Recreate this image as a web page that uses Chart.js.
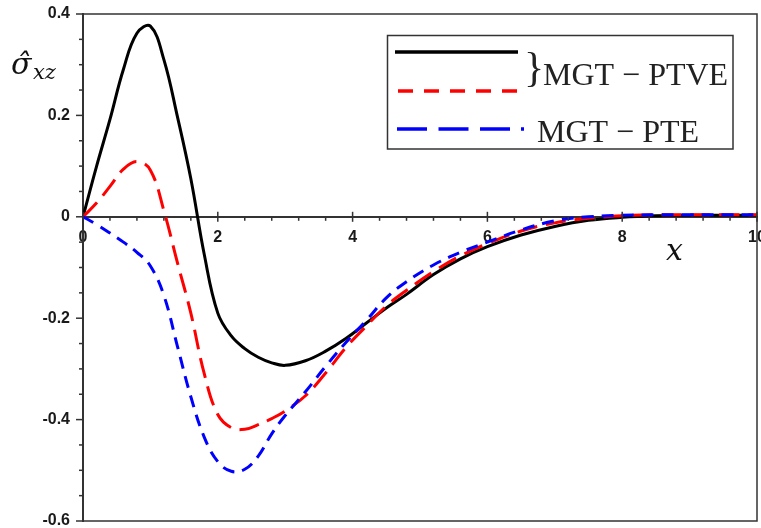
<!DOCTYPE html>
<html>
<head>
<meta charset="utf-8">
<script src="https://cdn.jsdelivr.net/npm/chart.js@4.4.0/dist/chart.umd.min.js"></script>
<style>
  html, body { margin: 0; padding: 0; background: #fff; }
  #wrap { width: 761px; height: 528px; }
</style>
</head>
<body>
<div id="wrap"><canvas id="chart" width="761" height="528"></canvas></div>
<script>
// values
const xValues = [0, 0.2, 0.4, 0.6, 0.8, 1.0, 1.2, 1.4, 1.6, 1.8, 2.0, 2.2, 2.4, 2.6, 2.8, 3.0,
  3.3, 3.6, 3.9, 4.2, 4.5, 4.8, 5.2, 5.6, 6.0, 6.5, 7.0, 7.5, 8.0, 8.5, 9.0, 9.5, 10];
const ptveSolid = [0, 0.099, 0.192, 0.291, 0.362, 0.376, 0.31, 0.198, 0.075, -0.075, -0.19, -0.235,
  -0.26, -0.277, -0.288, -0.293, -0.284, -0.265, -0.24, -0.21, -0.18, -0.153, -0.114, -0.083,
  -0.059, -0.036, -0.019, -0.007, -0.001, 0.002, 0.003, 0.003, 0.003];
const ptveDashed = [0, 0.027, 0.06, 0.094, 0.109, 0.092, 0.012, -0.09, -0.19, -0.31, -0.39, -0.416,
  -0.419, -0.41, -0.398, -0.383, -0.353, -0.308, -0.258, -0.216, -0.176, -0.145, -0.108, -0.077,
  -0.053, -0.028, -0.012, -0.003, 0.002, 0.004, 0.004, 0.004, 0.004];
const pteDashed = [0, -0.015, -0.032, -0.05, -0.07, -0.097, -0.155, -0.255, -0.355, -0.435, -0.483,
  -0.502, -0.498, -0.472, -0.428, -0.392, -0.345, -0.295, -0.248, -0.205, -0.16, -0.128, -0.095,
  -0.07, -0.05, -0.026, -0.008, 0.0, 0.003, 0.004, 0.004, 0.004, 0.004];
const xTicks = [0, 2, 4, 6, 8, 10];
const yTicks = [-0.6, -0.4, -0.2, 0, 0.2, 0.4];
const legendLabels = ['MGT \u2212 PTVE', 'MGT \u2212 PTE'];

const toPoints = ys => xValues.map((x, i) => ({ x: x, y: ys[i] }));
const axisColor = '#333';
const tickFont = { family: '"Liberation Sans", Arial', size: 16, weight: 'bold' };

// frame, minor ticks, titles and the hand-drawn legend box
const decor = {
  id: 'decor',
  afterDraw(chart) {
    const { ctx, chartArea: a, scales: { x, y } } = chart;
    ctx.save();
    ctx.strokeStyle = axisColor;
    ctx.lineWidth = 1.5;
    ctx.beginPath();
    ctx.moveTo(a.left, a.top);
    ctx.lineTo(a.right, a.top);
    ctx.lineTo(a.right, a.bottom);
    ctx.lineTo(a.left, a.bottom);
    ctx.stroke();

    // y ticks every 0.05
    for (let i = 0; i <= 20; i++) {
      const v = -0.6 + i * 0.05;
      const py = y.getPixelForValue(v);
      const len = i % 4 === 0 ? 7 : 4;
      ctx.beginPath();
      ctx.moveTo(a.left - len, py);
      ctx.lineTo(a.left, py);
      ctx.stroke();
    }
    // x ticks every 0.4 on the zero line
    const y0 = y.getPixelForValue(0);
    for (let i = 0; i <= 25; i++) {
      const px = x.getPixelForValue(i * 0.4);
      const major = i % 5 === 0;
      ctx.beginPath();
      ctx.moveTo(px, major ? y0 - 5 : y0);
      ctx.lineTo(px, y0 + (major ? 5 : 4));
      ctx.stroke();
    }

    // axis titles
    ctx.fillStyle = '#111';
    ctx.textBaseline = 'alphabetic';
    ctx.font = 'italic 30px "DejaVu Serif"';
    ctx.fillText('\u03C3\u0302', 11, 74);
    ctx.font = 'italic 21px "DejaVu Serif"';
    ctx.fillText('xz', 33, 79);
    ctx.font = 'italic 30px "DejaVu Serif"';
    ctx.fillText('x', 666, 260);

    // legend
    ctx.strokeStyle = '#333';
    ctx.lineWidth = 1.5;
    ctx.strokeRect(387.5, 35.5, 345.5, 113.5);
    ctx.lineWidth = 3.5;
    ctx.strokeStyle = '#000';
    ctx.beginPath(); ctx.moveTo(395, 52); ctx.lineTo(518, 52); ctx.stroke();
    ctx.strokeStyle = '#ff0000';
    ctx.setLineDash([15, 11]);
    ctx.beginPath(); ctx.moveTo(398, 91); ctx.lineTo(518, 91); ctx.stroke();
    ctx.strokeStyle = '#0000ff';
    ctx.setLineDash([30, 11.5, 30, 11.5, 30, 11, 3, 30]);
    ctx.beginPath(); ctx.moveTo(397, 129); ctx.lineTo(525, 129); ctx.stroke();
    ctx.setLineDash([]);
    ctx.fillStyle = '#222';
    ctx.font = '42px "Liberation Serif"';
    ctx.fillText('}', 524, 81);
    ctx.font = '32px "Liberation Serif"';
    ctx.fillText(legendLabels[0], 543, 85);
    ctx.fillText(legendLabels[1], 537, 142);
    ctx.restore();
  }
};

new Chart(document.getElementById('chart'), {
  type: 'line',
  data: {
    datasets: [
      { label: legendLabels[0], data: toPoints(ptveSolid), borderColor: '#000', borderWidth: 3, order: 3 },
      { label: legendLabels[0], data: toPoints(ptveDashed), borderColor: '#ff0000', borderWidth: 3,
        borderDash: [20, 9], order: 2 },
      { label: legendLabels[1], data: toPoints(pteDashed), borderColor: '#0000ff', borderWidth: 3,
        borderDash: [12, 8], order: 1 }
    ]
  },
  options: {
    responsive: false,
    animation: false,
    events: [],
    layout: { padding: { top: 14, right: 4, bottom: 7, left: 0 } },
    elements: {
      point: { radius: 0 },
      line: { tension: 0.4, fill: false }
    },
    plugins: { legend: { display: false }, tooltip: { enabled: false } },
    scales: {
      x: {
        type: 'linear',
        position: { y: 0 },
        min: 0, max: 10,
        afterBuildTicks: s => { s.ticks = xTicks.map(v => ({ value: v })); },
        afterFit: s => { s.paddingLeft = 0; s.paddingRight = 0; },
        grid: { display: false, drawTicks: false },
        border: { display: true, color: axisColor, width: 2 },
        ticks: { font: tickFont, color: '#1a1a1a', padding: 11, maxRotation: 0, autoSkip: false,
          callback: v => String(v) }
      },
      y: {
        type: 'linear',
        position: 'left',
        min: -0.6, max: 0.4,
        afterBuildTicks: s => { s.ticks = yTicks.map(v => ({ value: v })); },
        afterFit: s => { s.width = 83; s.paddingTop = 0; s.paddingBottom = 0; },
        grid: { display: false, drawTicks: false },
        border: { display: true, color: axisColor, width: 2 },
        ticks: { font: tickFont, color: '#1a1a1a', padding: 13, autoSkip: false,
          callback: v => String(Math.round(v * 10) / 10) }
      }
    }
  },
  plugins: [decor]
});
</script>
</body>
</html>
